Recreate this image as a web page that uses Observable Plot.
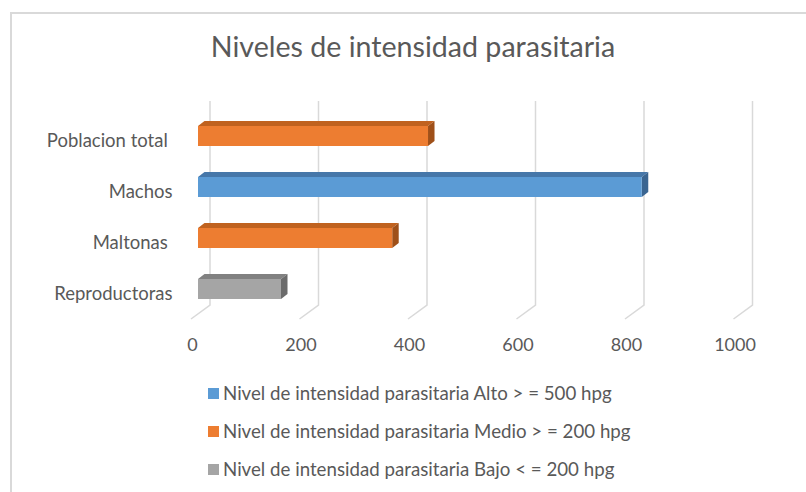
<!DOCTYPE html>
<html>
<head>
<meta charset="utf-8">
<script src="https://cdn.jsdelivr.net/npm/d3@7"></script>
<script src="https://cdn.jsdelivr.net/npm/@observablehq/plot@0.6"></script>
<style>
  html, body { margin: 0; padding: 0; background: #fff; }
  #page { position: relative; width: 806px; height: 492px; overflow: hidden; font-family: Lato, sans-serif; color: #595959; }
  #frame { position: absolute; left: 10px; top: 12px; right: -4px; bottom: -4px; border-top: 2px solid #d9d9d9; border-left: 2px solid #d9d9d9; }
  #title { position: absolute; left: 0; width: 826px; top: 29px; text-align: center; font-size: 28.6px; font-weight: 400; white-space: nowrap; }
  #chart { position: absolute; left: 0; top: 0; }
  #chart svg text { white-space: pre; }
  #legend { position: absolute; left: 208px; top: 374px; font-size: 18.7px; }
  .item { position: relative; height: 38px; display: flex; align-items: center; white-space: nowrap; }
  .swatch { width: 11px; height: 11px; margin-right: 4px; flex: none; }
</style>
</head>
<body>
<div id="page">
  <div id="frame"></div>
  <div id="title"></div>
  <div id="chart"></div>
  <div id="legend"></div>
</div>
<script>
// Animal groups, their counts and the parasite-intensity level of each group
const categories = ["Poblacion total ", "Machos", "Maltonas ", "Reproductoras"];
const values = [424, 818, 358, 153];
const levels = ["Medio", "Alto", "Medio", "Bajo"];

// Legend series (order as listed) and their colours
const levelOrder = ["Alto", "Medio", "Bajo"];
const levelNames = [
  "Nivel de intensidad parasitaria Alto > = 500 hpg",
  "Nivel de intensidad parasitaria Medio > = 200 hpg",
  "Nivel de intensidad parasitaria Bajo < = 200 hpg"
];
const levelColors = ["#5b9bd5", "#ed7d31", "#a5a5a5"];
const levelTopColors = ["#4677a9", "#c0621f", "#818181"];
const levelSideColors = ["#3a6591", "#9f5019", "#6b6b6b"];

const xTicks = [0, 200, 400, 600, 800, 1000];
const titleText = "Niveles de intensidad parasitaria";

const chartData = categories.map((c, i) => ({category: c, value: values[i], level: levels[i]}));

// extrusion of the bars and offsets of the back wall / floor
const DEPTH_X = 6.5, DEPTH_Y = 5;
const WALL_X = 12, FLOOR_X = -7, FLOOR_Y = 14;

// back-wall gridlines that bend forward onto the floor
const gridlines = Plot.ruleX(xTicks, {
  render(index, scales, values, dims) {
    const g = d3.create("svg:g").attr("fill", "none").attr("stroke", "#d9d9d9").attr("stroke-width", 1.5);
    const top = dims.marginTop, bottom = dims.height - dims.marginBottom;
    for (const i of index) {
      const x = scales.x(xTicks[i]);
      g.append("path").attr("d", `M${x + WALL_X},${top}L${x + WALL_X},${bottom}L${x + FLOOR_X},${bottom + FLOOR_Y}`);
    }
    return g.node();
  }
});

// top and end faces of each 3-D bar
const barDepth = Plot.barX(chartData, {
  x: "value", y: "category",
  render(index, scales) {
    const g = d3.create("svg:g");
    const bw = scales.y.bandwidth();
    for (const i of index) {
      const d = chartData[i];
      const k = levelOrder.indexOf(d.level);
      const x0 = scales.x(0), x1 = scales.x(d.value);
      const yt = scales.y(d.category), yb = yt + bw;
      g.append("path").attr("fill", levelTopColors[k])
        .attr("d", `M${x0},${yt}L${x0 + DEPTH_X},${yt - DEPTH_Y}L${x1 + DEPTH_X},${yt - DEPTH_Y}L${x1},${yt}Z`);
      g.append("path").attr("fill", levelSideColors[k])
        .attr("d", `M${x1},${yt}L${x1 + DEPTH_X},${yt - DEPTH_Y}L${x1 + DEPTH_X},${yb - DEPTH_Y}L${x1},${yb}Z`);
    }
    return g.node();
  }
});

const chart = Plot.plot({
  width: 806,
  height: 370,
  marginLeft: 198,
  marginRight: 65.5,
  marginTop: 101,
  marginBottom: 65,
  style: {fontFamily: "Lato, sans-serif", fontSize: "18px", color: "#595959", background: "transparent", overflow: "visible"},
  x: {domain: [0, 1000]},
  y: {domain: categories, paddingInner: 0.608, paddingOuter: 0.304, align: 0.806},
  color: {domain: levelOrder, range: levelColors},
  marks: [
    gridlines,
    Plot.axisX(xTicks, {tickSize: 0, tickPadding: 33, dx: -6, label: null, tickFormat: d => String(d)}),
    Plot.axisY({tickSize: 0, tickPadding: 26, dy: 5, label: null, fontSize: 18.5}),
    barDepth,
    Plot.barX(chartData, {x: "value", y: "category", fill: "level"})
  ]
});
document.getElementById("chart").append(chart);

document.getElementById("title").textContent = titleText;

const legend = d3.select("#legend");
levelOrder.forEach((lv, i) => {
  const row = legend.append("div").attr("class", "item");
  row.append("div").attr("class", "swatch").style("background", levelColors[i]);
  row.append("span").text(levelNames[i]);
});
</script>
</body>
</html>
